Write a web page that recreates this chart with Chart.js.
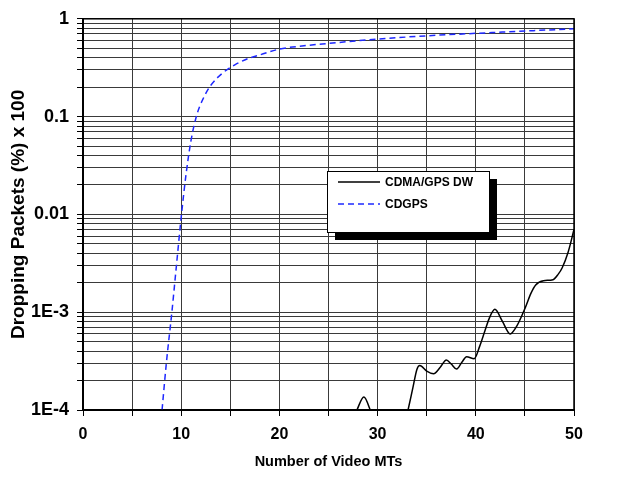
<!DOCTYPE html>
<html>
<head>
<meta charset="utf-8">
<script src="https://cdn.jsdelivr.net/npm/chart.js@4/dist/chart.umd.min.js"></script>
<style>
  html, body { margin: 0; padding: 0; background: #fff; }
  #wrap { width: 621px; height: 482px; }
</style>
</head>
<body>
<div id="wrap"><canvas id="dropChart"></canvas></div>
<script>
// values
const seriesNames = ["CDMA/GPS DW", "CDGPS"];

const dwX = [27.0, 27.9, 28.6, 29.25, 30.0, 31.5, 32.6, 33.1, 33.6, 34.0, 34.3, 35.0, 35.7, 36.4, 37.0, 37.5, 38.05, 38.6, 39.06, 39.84, 40.4, 40.94, 41.4, 41.94, 42.7, 43.5, 44.2, 45.05, 45.6, 46.1, 46.9, 47.86, 48.4, 48.8, 49.4, 50];
const dwY = [6e-5, 1e-4, 1.36e-4, 1e-4, 6e-5, 4e-5, 6e-5, 1e-4, 1.7e-4, 2.6e-4, 2.85e-4, 2.5e-4, 2.35e-4, 2.75e-4, 3.25e-4, 2.95e-4, 2.62e-4, 3.1e-4, 3.5e-4, 3.35e-4, 4.5e-4, 6.5e-4, 8.8e-4, 1.07e-3, 8.1e-4, 6.0e-4, 7.3e-4, 1.12e-3, 1.55e-3, 1.9e-3, 2.1e-3, 2.15e-3, 2.45e-3, 2.85e-3, 4.1e-3, 7.0e-3];

const cdgpsX = [8.05, 8.5, 9.05, 9.5, 10.03, 10.5, 11.0, 11.6, 12.2, 13.0, 14.2, 15.5, 16.9, 18.1, 20, 22.5, 25, 30, 35, 40, 45, 50];
const cdgpsY = [1e-4, 3.1e-4, 1e-3, 2.9e-3, 1e-2, 0.026, 0.057, 0.105, 0.15, 0.208, 0.278, 0.34, 0.395, 0.43, 0.49, 0.53, 0.56, 0.62, 0.67, 0.71, 0.75, 0.79];

const xTickLabels = ["0", "10", "20", "30", "40", "50"];
const yTickValues = [1, 0.1, 0.01, 0.001, 0.0001];
const yTickLabels = ["1", "0.1", "0.01", "1E-3", "1E-4"];

const fontFam = "'Liberation Sans', Arial, sans-serif";

// horizontal grid at every 1..9 step of each decade
let yGrid = [];
for (let e = -4; e < 0; e++) {
    for (let m = 1; m <= 9; m++) {
        yGrid.push(+(m * Math.pow(10, e)).toPrecision(3));
    }
}
yGrid.push(1);

function toPoints(xs, ys) {
    return xs.map((x, i) => ({ x: x, y: ys[i] }));
}

// legend box with a black drop shadow, drawn inside the plot
const legendBox = {
    id: 'legendBox',
    afterDraw(chart) {
        const ctx = chart.ctx;
        const a = chart.chartArea;
        const w = a.right - a.left, h = a.bottom - a.top;
        const L = Math.round(a.left + 0.497 * w), T = Math.round(a.top + 0.39 * h);
        const W = Math.round(0.33 * w), H = Math.round(0.157 * h);
        ctx.save();
        // frame round the plot
        ctx.strokeStyle = '#000';
        ctx.lineWidth = 1.5;
        ctx.strokeRect(a.left, a.top, w, h);

        ctx.fillStyle = '#000';
        ctx.fillRect(L + 8, T + 8, W, H);
        ctx.fillStyle = '#fff';
        ctx.fillRect(L, T, W, H);
        ctx.lineWidth = 1;
        ctx.strokeRect(L + 0.5, T + 0.5, W, H);

        chart.data.datasets.forEach((ds, i) => {
            const y = T + 11 + i * 22;
            ctx.beginPath();
            ctx.strokeStyle = ds.borderColor;
            ctx.lineWidth = ds.borderWidth;
            ctx.setLineDash(ds.borderDash || []);
            ctx.moveTo(L + 11, y);
            ctx.lineTo(L + 53, y);
            ctx.stroke();
            ctx.setLineDash([]);
            ctx.fillStyle = '#000';
            ctx.font = "bold 12px " + fontFam;
            ctx.textBaseline = 'middle';
            ctx.fillText(ds.label, L + 58, y + 1);
        });
        ctx.restore();
    }
};

new Chart("dropChart", {
    type: "line",
    data: {
        datasets: [{
            label: seriesNames[0],
            data: toPoints(dwX, dwY),
            borderColor: "#000",
            borderWidth: 1.5,
            pointRadius: 0,
            cubicInterpolationMode: 'monotone',
            fill: false
        }, {
            label: seriesNames[1],
            data: toPoints(cdgpsX, cdgpsY),
            borderColor: "rgb(30,40,255)",
            borderWidth: 1.5,
            borderDash: [6, 4],
            pointRadius: 0,
            cubicInterpolationMode: 'monotone',
            fill: false
        }]
    },
    options: {
        responsive: true,
        maintainAspectRatio: false,
        animation: false,
        layout: { padding: { left: 0, right: 47, top: 16, bottom: 0 } },
        plugins: {
            legend: { display: false },
            tooltip: { enabled: false }
        },
        scales: {
            x: {
                type: 'linear',
                min: 0,
                max: 50,
                ticks: {
                    stepSize: 5,
                    autoSkip: false,
                    maxRotation: 0,
                    padding: 9,
                    color: '#000',
                    font: { family: fontFam, size: 16, weight: 'bold' },
                    callback: v => xTickLabels.includes(String(v)) ? String(v) : ''
                },
                grid: { color: '#3a3a3a', lineWidth: 1, tickLength: 6, tickColor: '#000' },
                border: { color: '#000', width: 2 },
                title: {
                    display: true,
                    text: 'Number of Video MTs',
                    color: '#000',
                    font: { family: fontFam, size: 14.5, weight: 'bold' },
                    padding: { top: 0, bottom: 11 }
                },
                afterFit: s => { s.height = 72; }
            },
            y: {
                type: 'logarithmic',
                min: 1e-4,
                max: 1,
                afterBuildTicks: s => { s.ticks = yGrid.map(v => ({ value: v })); },
                ticks: {
                    autoSkip: false,
                    padding: 8,
                    color: '#000',
                    font: { family: fontFam, size: 18, weight: 'bold' },
                    callback: v => {
                        const i = yTickValues.findIndex(t => Math.abs(t - v) / t < 1e-6);
                        return i >= 0 ? yTickLabels[i] : '';
                    }
                },
                grid: { color: '#3a3a3a', lineWidth: 1, tickLength: 6, tickColor: '#000' },
                border: { color: '#000', width: 2 },
                title: {
                    display: true,
                    text: 'Dropping Packets (%) x 100',
                    color: '#000',
                    font: { family: fontFam, size: 19, weight: 'bold' },
                    padding: { top: 7, bottom: 0 }
                },
                afterFit: s => { s.width = 83; }
            }
        }
    },
    plugins: [legendBox]
});
</script>
</body>
</html>
